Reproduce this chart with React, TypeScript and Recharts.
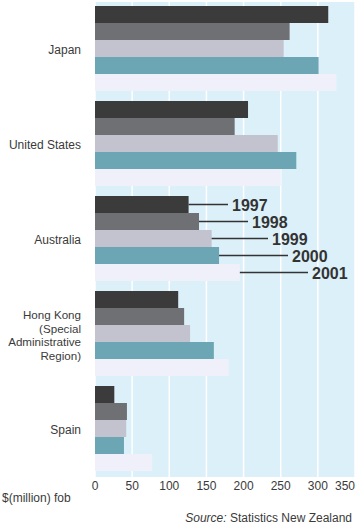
import { Bar, BarChart, CartesianGrid, LabelList, XAxis, YAxis } from "recharts";

const paises = [
  "Japan",
  "United States",
  "Australia",
  "Hong Kong (Special Administrative Region)",
  "Spain",
];
const anos = ["1997", "1998", "1999", "2000", "2001"];

const v1997 = [314, 206, 126, 112, 26];
const v1998 = [262, 188, 140, 120, 43];
const v1999 = [254, 246, 157, 128, 42];
const v2000 = [301, 271, 167, 160, 39];
const v2001 = [325, 250, 195, 180, 77];

const ticksX = [0, 50, 100, 150, 200, 250, 300, 350];

const cores = ["#3b3b3b", "#6e7074", "#c3c3d0", "#6ca6b5", "#eff0fa"];

const linhasPais: { [k: string]: string[] } = {
  "Hong Kong (Special Administrative Region)": [
    "Hong Kong",
    "(Special",
    "Administrative",
    "Region)",
  ],
};

const dados = paises.map((p, i) => ({
  pais: p,
  "1997": v1997[i],
  "1998": v1998[i],
  "1999": v1999[i],
  "2000": v2000[i],
  "2001": v2001[i],
}));

const TickPais = (props: any) => {
  const { x, y, payload } = props;
  const linhas = linhasPais[payload.value] || [payload.value];
  const varias = linhas.length > 1;
  const alt = 13.4;
  const inicio = y - ((linhas.length - 1) * alt) / 2;
  return (
    <text
      x={x - 6}
      y={inicio}
      textAnchor="end"
      fontSize={varias ? 11.6 : 12}
      fill="#3a3a3a"
      fontFamily="Liberation Sans, Arial, sans-serif"
      dominantBaseline="central"
    >
      {linhas.map((l: string, i: number) => (
        <tspan key={i} x={x - 6} y={inicio + i * alt}>
          {l}
        </tspan>
      ))}
    </text>
  );
};

const TickValor = (props: any) => {
  const { x, y, payload } = props;
  const ultimo = payload.value === 350;
  return (
    <text
      x={ultimo ? x + 4 : x}
      y={y - 4}
      textAnchor={ultimo ? "end" : "middle"}
      fontSize={12}
      fill="#3a3a3a"
      fontFamily="Liberation Sans, Arial, sans-serif"
      dominantBaseline="hanging"
    >
      {payload.value}
    </text>
  );
};

// rotulos dos anos so no grupo da Australia
const rotuloAno = (k: number) => (props: any) => {
  const { x, y, width, height, index } = props;
  if (index !== 2) return null;
  const fim = Number(x) + Number(width);
  const lx = Number(x) + 137 + k * 20;
  const cy = Number(y) + Number(height) / 2;
  return (
    <g>
      <line x1={fim} x2={lx - 4} y1={cy} y2={cy} stroke="#333" strokeWidth={1.4} />
      <text
        x={lx}
        y={cy + 1}
        fontSize={16}
        fontWeight="bold"
        fill="#333"
        fontFamily="Liberation Sans, Arial, sans-serif"
        dominantBaseline="central"
      >
        {anos[k]}
      </text>
    </g>
  );
};

export default function App() {
  return (
    <div
      style={{
        position: "absolute",
        left: 0,
        top: 0,
        width: 363,
        height: 524,
        background: "#fff",
        fontFamily: "Liberation Sans, Arial, sans-serif",
      }}
    >
      <BarChart
        width={363}
        height={524}
        data={dados}
        layout="vertical"
        margin={{ top: 2, right: 8, left: 0, bottom: 0 }}
        barCategoryGap={4}
        barGap={0}
      >
        <CartesianGrid
          horizontal={false}
          stroke="#ffffff"
          strokeWidth={1.5}
          fill="#dcf0fa"
          fillOpacity={1}
        />
        <XAxis
          type="number"
          domain={[0, 350]}
          ticks={ticksX}
          axisLine={false}
          tickLine={false}
          height={47}
          tick={<TickValor />}
        />
        <YAxis
          type="category"
          dataKey="pais"
          width={95}
          axisLine={false}
          tickLine={false}
          tick={<TickPais />}
        />
        {anos.map((a, k) => (
          <Bar key={a} dataKey={a} fill={cores[k]} isAnimationActive={false}>
            <LabelList dataKey={a} content={rotuloAno(k)} />
          </Bar>
        ))}
      </BarChart>
      <div
        style={{
          position: "absolute",
          left: 2,
          top: 491,
          fontSize: 12,
          color: "#3a3a3a",
        }}
      >
        $(million) fob
      </div>
      <div
        style={{
          position: "absolute",
          right: 11,
          top: 511,
          fontSize: 12,
          color: "#3a3a3a",
        }}
      >
        <i>Source:</i> Statistics New Zealand
      </div>
    </div>
  );
}
